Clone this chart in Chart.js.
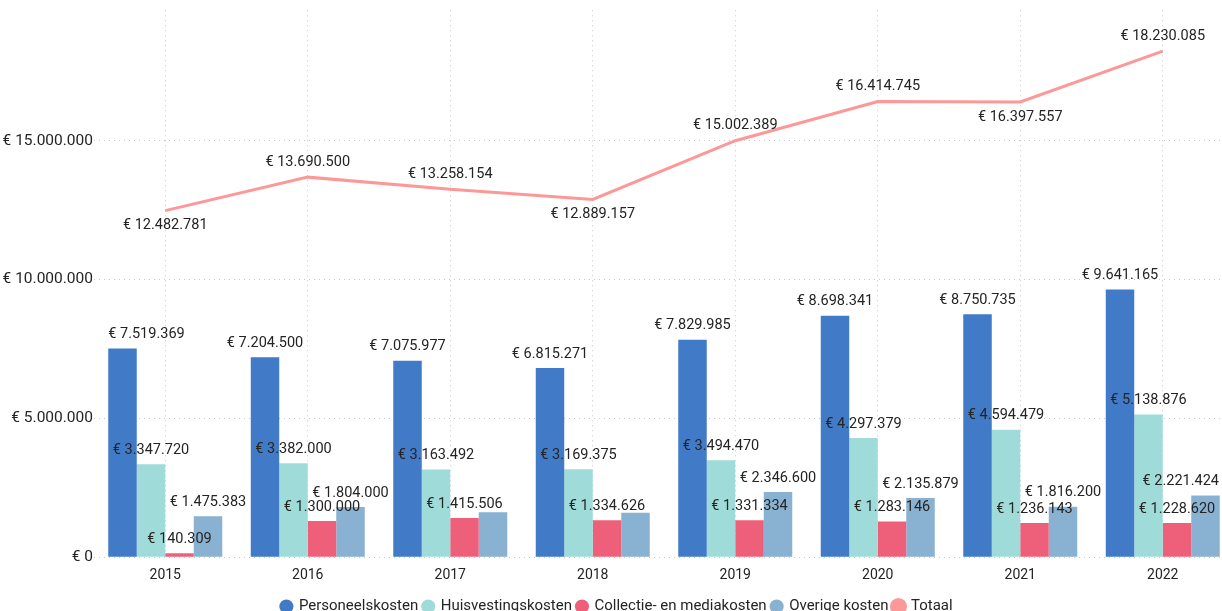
<!DOCTYPE html>
<html>
<head>
<meta charset="utf-8">
<script src="https://cdn.jsdelivr.net/npm/chart.js@4"></script>
<style>
  html, body { margin: 0; padding: 0; background: #fff; overflow: hidden; }
  #wrap { width: 1234px; height: 626px; position: relative; }
  #warm { position: absolute; left: -9999px; top: 0; font-family: Roboto; font-size: 16px; }
</style>
</head>
<body>
<span id="warm">Personeelskosten € 0123456789</span>
<div id="wrap"><canvas id="chart"></canvas></div>
<script>
const years = ['2015', '2016', '2017', '2018', '2019', '2020', '2021', '2022'];
const personeelskosten = [7519369, 7204500, 7075977, 6815271, 7829985, 8698341, 8750735, 9641165];
const huisvestingskosten = [3347720, 3382000, 3163492, 3169375, 3494470, 4297379, 4594479, 5138876];
const collectieMediakosten = [140309, 1300000, 1415506, 1334626, 1331334, 1283146, 1236143, 1228620];
const overigeKosten = [1475383, 1804000, 1620000, 1600000, 2346600, 2135879, 1816200, 2221424];
const totaal = [12482781, 13690500, 13258154, 12889157, 15002389, 16414745, 16397557, 18230085];
const yTicks = [0, 5000000, 10000000, 15000000];
// where Power BI put the line labels
const totaalLabelPos = ['below', 'above', 'above', 'below', 'above', 'above', 'below', 'above'];
// only some bars had a visible label in the original
const overigeShown = [true, true, false, false, true, true, true, true];

function euro(v) {
  return '€ ' + Math.round(v).toString().replace(/\B(?=(\d{3})+(?!\d))/g, '.');
}

const valueLabels = {
  id: 'valueLabels',
  afterDatasetsDraw(chart) {
    const ctx = chart.ctx;
    const area = chart.chartArea;
    const rightLimit = Math.min(area.right, window.innerWidth) - 3;
    ctx.save();
    ctx.font = '14.5px Roboto';
    ctx.fillStyle = '#252423';
    ctx.textAlign = 'center';
    ctx.textBaseline = 'middle';
    chart.data.datasets.forEach((ds, i) => {
      const meta = chart.getDatasetMeta(i);
      meta.data.forEach((el, j) => {
        if (ds.label === 'Overige kosten' && !overigeShown[j]) return;
        const text = euro(ds.data[j]);
        const w = ctx.measureText(text).width;
        let x = el.x;
        let y;
        if (ds.type === 'line') {
          y = el.y + (totaalLabelPos[j] === 'below' ? 15 : -15);
        } else {
          y = el.y - 14;
          if (x - w / 2 < area.left) x = el.x - el.width / 2 + w / 2;
        }
        if (x + w / 2 > rightLimit) x = rightLimit - w / 2;
        ctx.fillText(text, x, y);
      });
    });
    ctx.restore();
  }
};

function draw() {
  new Chart(document.getElementById('chart'), {
    type: 'bar',
    data: {
      labels: years,
      datasets: [
        { label: 'Personeelskosten', data: personeelskosten, backgroundColor: '#417BC7' },
        { label: 'Huisvestingskosten', data: huisvestingskosten, backgroundColor: '#9FDCD9' },
        { label: 'Collectie- en mediakosten', data: collectieMediakosten, backgroundColor: '#EE6079' },
        { label: 'Overige kosten', data: overigeKosten, backgroundColor: '#89B1D1' },
        {
          type: 'line', label: 'Totaal', data: totaal,
          borderColor: '#FD9898', backgroundColor: '#FD9898',
          borderWidth: 3, pointRadius: 0, tension: 0, fill: false
        }
      ]
    },
    options: {
      responsive: true,
      maintainAspectRatio: false,
      animation: false,
      layout: { padding: { top: 5, left: 0, right: 0, bottom: 2 } },
      datasets: {
        bar: { barPercentage: 1, categoryPercentage: 0.8 }
      },
      scales: {
        x: {
          grid: { offset: false, color: '#C8C8C8', drawTicks: false },
          border: { display: false, dash: [1, 4] },
          ticks: { color: '#252423', font: { family: 'Roboto', size: 14 }, padding: 10 }
        },
        y: {
          min: 0,
          max: 19700000,
          afterFit(scale) { scale.width = 94; },
          afterBuildTicks(scale) { scale.ticks = yTicks.map(v => ({ value: v })); },
          grid: { color: '#C8C8C8', drawTicks: false },
          border: { display: false, dash: [1, 4] },
          ticks: {
            color: '#252423',
            font: { family: 'Roboto', size: 15.5 },
            padding: 1,
            callback: (v) => euro(v)
          }
        }
      },
      plugins: {
        legend: {
          position: 'bottom',
          labels: {
            usePointStyle: true,
            pointStyle: 'circle',
            boxWidth: 10,
            boxHeight: 10,
            padding: 5,
            color: '#252423',
            font: { family: 'Roboto', size: 15 }
          }
        },
        tooltip: { enabled: false }
      }
    },
    plugins: [valueLabels]
  });
}

document.fonts.load('16px Roboto').then(draw, draw);
</script>
</body>
</html>
